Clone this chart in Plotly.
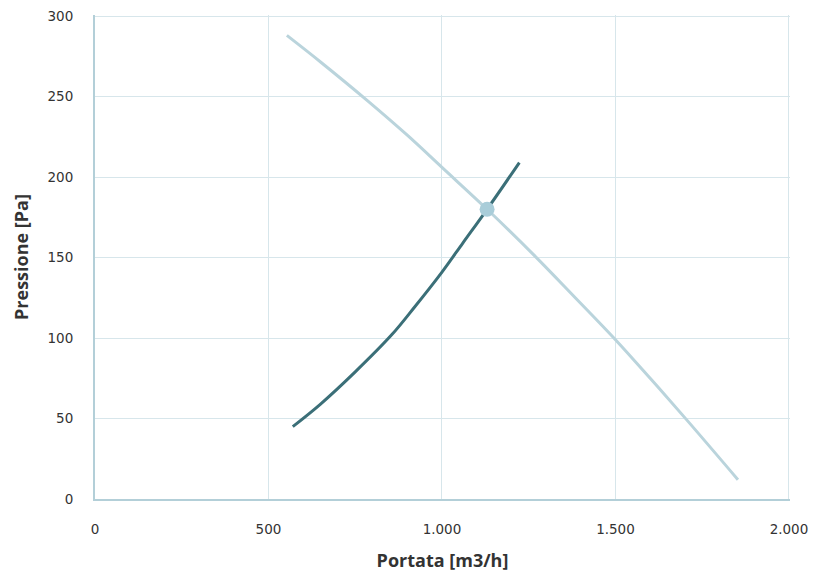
import plotly.graph_objects as go

# Fan curve (light) – portata [m3/h], pressione [Pa]
fan_q = [553, 650, 785, 900, 1000, 1130, 1263, 1380, 1500, 1600, 1706, 1853]
fan_p = [288, 271.5, 247.5, 226, 206, 180, 152, 126, 99, 75, 49, 12]

# System curve (dark)
sys_q = [570, 650, 750, 855, 920, 1000, 1060, 1130, 1223]
sys_p = [45, 59, 79, 102, 119, 141, 159, 180, 209]

# Working point
work_q = [1130]
work_p = [180]

x_ticks = [0, 500, 1000, 1500, 2000]
y_ticks = [0, 50, 100, 150, 200, 250, 300]

grid_c = "#d7e6eb"
axis_c = "#b3cfd8"
text_c = "#333333"

fig = go.Figure()
fig.add_trace(go.Scatter(x=fan_q, y=fan_p, mode="lines",
                         line=dict(color="#bad4dc", width=3, shape="spline", smoothing=1.0),
                         hoverinfo="skip", showlegend=False))
fig.add_trace(go.Scatter(x=sys_q, y=sys_p, mode="lines",
                         line=dict(color="#3b6f78", width=3, shape="spline", smoothing=1.0),
                         hoverinfo="skip", showlegend=False))
fig.add_trace(go.Scatter(x=work_q, y=work_p, mode="markers",
                         marker=dict(color="#a9cdd9", size=15, line=dict(width=0)),
                         hoverinfo="skip", showlegend=False))

fig.update_layout(
    width=813, height=566,
    margin=dict(l=87, r=31, t=7, b=75),
    paper_bgcolor="white", plot_bgcolor="white",
    separators=",.",
    font=dict(family="DejaVu Sans", size=13.5, color=text_c),
    xaxis=dict(range=[0, 2003], tickvals=x_ticks, tickformat=",d", automargin=False,
               ticklabeloverflow="allow",
               showgrid=True, gridcolor=grid_c, gridwidth=1,
               showline=True, linecolor=axis_c, linewidth=2, mirror=False,
               zeroline=False, ticks="outside", ticklen=17, tickcolor="rgba(0,0,0,0)",
               title=dict(text="<b>Portata [m3/h]</b>", standoff=18,
                          font=dict(family="Open Sans", size=18, color=text_c))),
    yaxis=dict(range=[0, 300.7], tickvals=y_ticks, automargin=False,
               ticklabeloverflow="allow",
               showgrid=True, gridcolor=grid_c, gridwidth=1,
               showline=True, linecolor=axis_c, linewidth=2,
               zeroline=False, ticks="outside", ticklen=17, tickcolor="rgba(0,0,0,0)",
               title=dict(text="<b>Pressione [Pa]</b>", standoff=14,
                          font=dict(family="Open Sans", size=18, color=text_c))),
)

fig.write_html("out.html")
